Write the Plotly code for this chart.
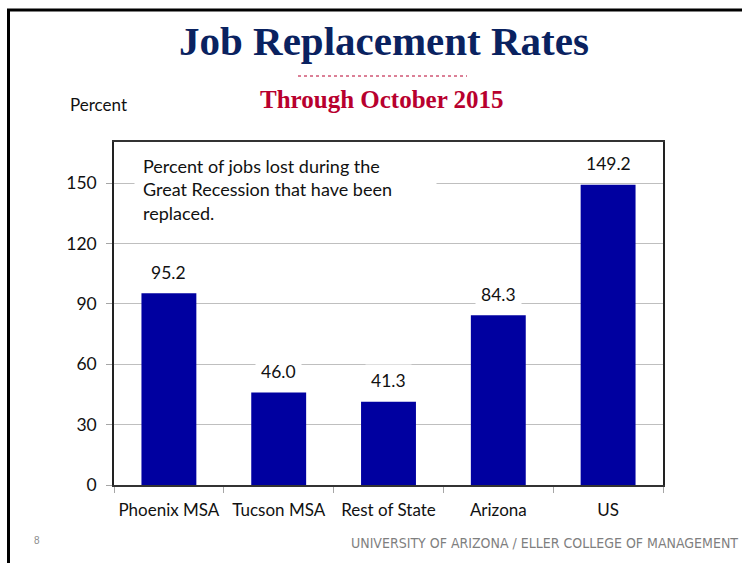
import plotly.graph_objects as go

categories = ["Phoenix MSA", "Tucson MSA", "Rest of State", "Arizona", "US"]
values = [95.2, 46.0, 41.3, 84.3, 149.2]
y_ticks = [0, 30, 60, 90, 120, 150]

W, H = 742, 563
L, R, T, B = 114, 79, 142, 78
PW, PH = W - L - R, H - T - B

def px(x):
    return (x - L) / PW

def py(y):
    return 1 - (y - T) / PH

TICK_FONT = dict(family="Lato, Open Sans, sans-serif", size=17.5, color="#111111")

fig = go.Figure(
    go.Bar(x=categories, y=values, marker=dict(color="#0000A0", line=dict(width=0)),
           width=0.5, hoverinfo="skip")
)

annotations = []
for c, v in zip(categories, values):
    annotations.append(dict(x=c, y=v, xref="x", yref="y", text=f"{v:.1f}", showarrow=False,
                            yanchor="middle", yshift=21, bgcolor="white", borderpad=5,
                            font=TICK_FONT))

annotations += [
    dict(x=px(134), y=py(189), xref="paper", yref="paper", xanchor="left", yanchor="middle",
         text="Percent of jobs lost during the<br>Great Recession that have been<br>replaced.",
         align="left", showarrow=False, bgcolor="white", width=285, borderpad=8,
         font=dict(family="Lato, Open Sans, sans-serif", size=18, color="#111111")),
    dict(x=px(384), y=py(41), xref="paper", yref="paper", xanchor="center", yanchor="middle",
         text="<b>Job Replacement Rates</b>", showarrow=False,
         font=dict(family="Liberation Serif, Times New Roman, serif", size=41, color="#0A2260")),
    dict(x=px(382), y=py(99), xref="paper", yref="paper", xanchor="center", yanchor="middle",
         text="<b>Through October 2015</b>", showarrow=False,
         font=dict(family="Liberation Serif, Times New Roman, serif", size=25, color="#B8002E")),
    dict(x=px(68), y=py(104), xref="paper", yref="paper", xanchor="left", yanchor="middle",
         text="Percent", showarrow=False,
         font=dict(family="Lato, sans-serif", size=17, color="#111111")),
    dict(x=px(740), y=py(543), xref="paper", yref="paper", xanchor="right", yanchor="middle",
         text="UNIVERSITY OF ARIZONA / ELLER COLLEGE OF MANAGEMENT", showarrow=False,
         font=dict(family="Liberation Sans Narrow, DejaVu Sans Condensed, sans-serif", size=14, color="#7F7F7F")),
    dict(x=px(37), y=py(540), xref="paper", yref="paper", xanchor="center", yanchor="middle",
         text="8", showarrow=False,
         font=dict(family="Liberation Sans Narrow, sans-serif", size=10, color="#8C8C8C")),
]

shapes = [
    # slide border
    dict(type="line", xref="paper", yref="paper", x0=px(8.5), x1=px(8.5), y0=py(9), y1=py(563),
         line=dict(color="black", width=3)),
    dict(type="line", xref="paper", yref="paper", x0=px(7), x1=px(742), y0=py(10), y1=py(10),
         line=dict(color="black", width=3)),
    # dotted rule under title
    dict(type="line", xref="paper", yref="paper", x0=px(298), x1=px(467), y0=py(76), y1=py(76),
         line=dict(color="#B8002E", width=1, dash="dot")),
]

fig.update_layout(
    width=W, height=H, margin=dict(l=L, r=R, t=T, b=B, autoexpand=False),
    paper_bgcolor="white", plot_bgcolor="white", showlegend=False,
    annotations=annotations, shapes=shapes,
    bargap=0.5,
)
fig.update_xaxes(showline=True, linecolor="#333333", linewidth=1.5, mirror=True,
                 ticks="outside", tickson="boundaries", ticklen=6, tickcolor="#A6A6A6",
                 tickfont=dict(family="Lato, Open Sans, sans-serif", size=17, color="#111111"),
                 tickangle=0, ticklabelstandoff=9, showgrid=False, fixedrange=True)
fig.update_yaxes(range=[0, 170.4], tickvals=y_ticks, showline=True, linecolor="#222222",
                 linewidth=1.5, mirror=True, ticks="outside", ticklen=6, tickcolor="#A6A6A6",
                 showgrid=True, gridcolor="#BFBFBF", gridwidth=1, zeroline=False,
                 tickfont=TICK_FONT, ticklabelstandoff=6, fixedrange=True)

fig.write_html("out.html", config={"displayModeBar": False},
               post_script="document.body.style.margin='0';document.body.style.overflow='hidden';")
